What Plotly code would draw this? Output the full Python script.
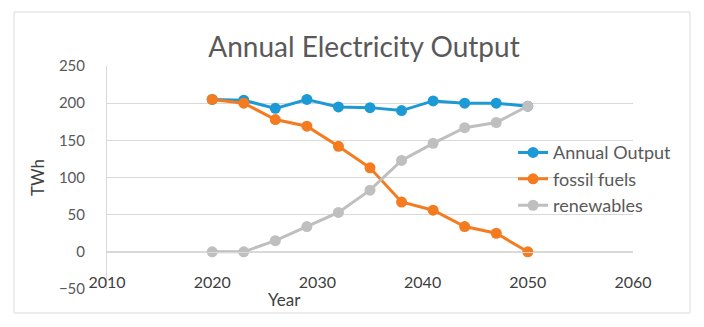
import plotly.graph_objects as go

years = [2020, 2023, 2026, 2029, 2032, 2035, 2038, 2041, 2044, 2047, 2050]
annual_output = [205, 204, 193, 205, 195, 194, 190, 203, 200, 200, 196]
fossil_fuels = [205, 200, 178, 169, 142, 113, 67, 56, 34, 25, 0]
renewables = [0, 0, 15, 34, 53, 83, 123, 146, 167, 174, 196]
x_ticks = [2010, 2020, 2030, 2040, 2050, 2060]
y_ticks = [-50, 0, 50, 100, 150, 200, 250]

FONT = "Lato, Calibri, sans-serif"
series = [
    ("Annual Output", annual_output, "#1c9ad6"),
    ("fossil fuels", fossil_fuels, "#f47b20"),
    ("renewables", renewables, "#bfbfbf"),
]

fig = go.Figure()
for name, vals, col in series:
    fig.add_trace(go.Scatter(
        x=years, y=vals, name=name, mode="lines+markers",
        line=dict(color=col, width=3),
        marker=dict(color=col, size=11),
    ))

fig.update_layout(
    width=704, height=327,
    margin=dict(l=107, r=71, t=66, b=38),
    paper_bgcolor="white", plot_bgcolor="white",
    font=dict(family=FONT, color="#595959"),
    title=dict(text="Annual Electricity Output", xref="paper", x=(364 - 107) / 526,
               xanchor="center", y=0.855, yanchor="middle",
               font=dict(size=28, color="#595959", family=FONT)),
    showlegend=True,
    legend=dict(x=0.772, y=0.694, xanchor="left", yanchor="top",
                bgcolor="rgba(0,0,0,0)", font=dict(size=18, color="#595959", family=FONT),
                tracegroupgap=0),
    xaxis=dict(range=[2010, 2060], tickvals=x_ticks, showgrid=False,
               anchor="free", position=50/300,
               showline=True, linecolor="#d9d9d9", linewidth=1,
               ticks="outside", ticklen=16, tickcolor="rgba(0,0,0,0)",
               tickfont=dict(size=16, color="#404040", family=FONT),
               zeroline=False),
    yaxis=dict(range=[-50, 250], tickvals=y_ticks, showgrid=True, gridcolor="#d9d9d9",
               gridwidth=1, zeroline=False,
               showline=True, linecolor="#d9d9d9", linewidth=1,
               ticks="outside", ticklen=18, tickcolor="rgba(0,0,0,0)",
               tickfont=dict(size=15, color="#595959", family=FONT),
               title=dict(text="TWh", standoff=9,
                          font=dict(size=17, color="#404040", family=FONT))),
    annotations=[dict(text="Year", xref="paper", yref="paper",
                      x=(284 - 107) / 526, y=(289 - 299) / 223,
                      xanchor="center", yanchor="middle", showarrow=False,
                      font=dict(size=17, color="#404040", family=FONT))],
    shapes=[dict(type="rect", xref="paper", yref="paper",
                 x0=-93/526, x1=583/526, y0=-24/223, y1=277/223,
                 line=dict(color="#d9d9d9", width=1), fillcolor="rgba(0,0,0,0)",
                 layer="below")],
)

fig.write_html("out.html")
